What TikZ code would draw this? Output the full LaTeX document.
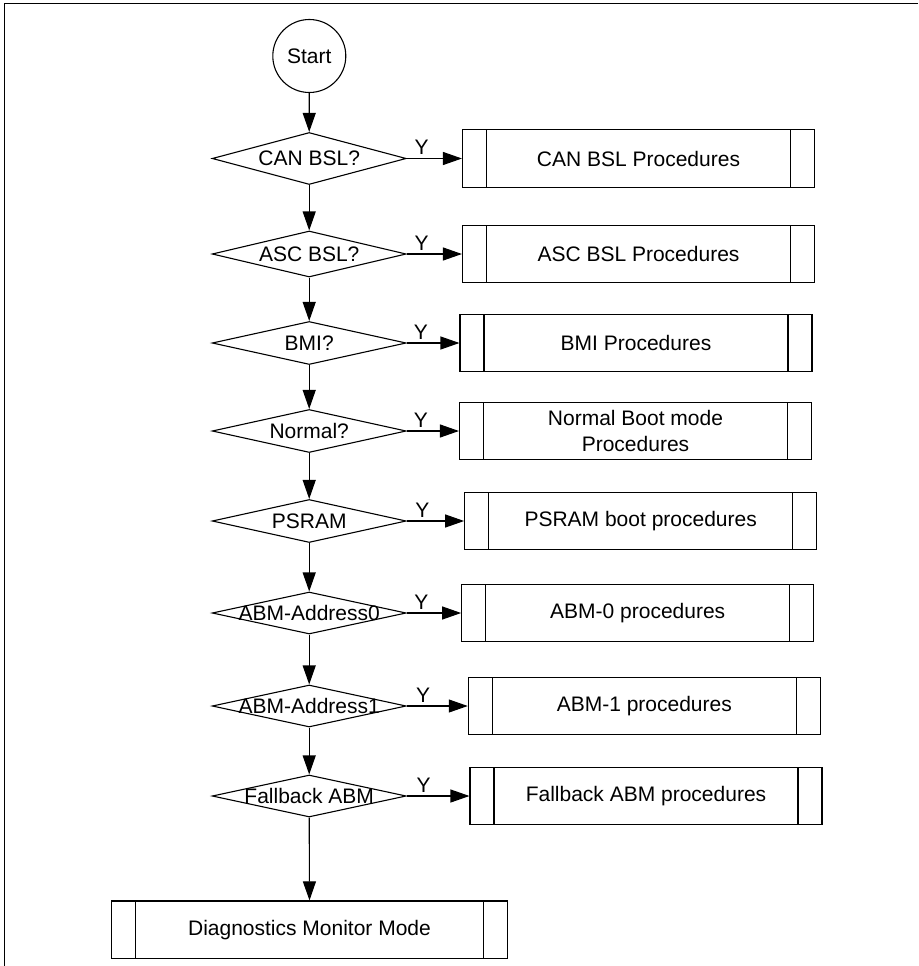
\documentclass[tikz,border=0pt]{standalone}
\usepackage{fontspec}
\setmainfont{Liberation Sans}
\usetikzlibrary{arrows.meta,shapes.geometric}
\tikzset{
  ar/.style={-{Triangle[length=19pt,width=13pt]},line width=1.1pt},
  startc/.style={draw,circle,line width=1.1pt,minimum size=73pt,inner sep=0pt},
  dec/.style={draw,diamond,line width=1.1pt,minimum width=194pt,inner sep=0pt},
  proc/.style={draw,rectangle,line width=1.1pt,minimum height=57.5pt,align=center,inner sep=0pt,
    path picture={\draw[line width=1.1pt]
      ([xshift=24pt]path picture bounding box.north west) -- ([xshift=24pt]path picture bounding box.south west)
      ([xshift=-24pt]path picture bounding box.north east) -- ([xshift=-24pt]path picture bounding box.south east);}}
}
\begin{document}
\begin{tikzpicture}[x=1pt,y=1pt,font=\fontsize{21}{26}\selectfont]
\useasboundingbox (0,0) rectangle (918,-966);
% frame
\draw[line width=1.3pt] (918,-3.5) -- (4.5,-3.5) -- (4.5,-966);
\node[startc] (start) at (309.3,-56) {Start};
% decisions and their procedures
\foreach \i/\y/\h/\bx/\q/\p in {
  1/158.5/52/638.5/{CAN BSL?}/{CAN BSL Procedures},
  2/254/46/638.5/{ASC BSL?}/{ASC BSL Procedures},
  3/343/43/636/{BMI?}/{BMI Procedures},
  4/431/43/635.5/{Normal?}/{Normal Boot mode\\Procedures},
  5/521/43/640.7/{PSRAM}/{PSRAM boot procedures},
  6/613/42/637.7/{ABM-Address0}/{ABM-0 procedures},
  7/706/42/644.3/{ABM-Address1}/{ABM-1 procedures},
  8/796/42/646/{Fallback ABM}/{Fallback ABM procedures}}{
  \node[dec,minimum height=\h pt] (d\i) at (309.2,-\y) {};
  \node (dt\i) at (d\i) {\q};
  \node[proc,minimum width=352pt] (p\i) at (\bx,-\y) {\p};
  \draw[ar] (d\i.east) -- node[above=3pt,pos=0.27,inner sep=0pt] (y\i) {Y} (p\i.west);
}
\node[proc,minimum width=395.6pt] (diag) at (309.5,-929.7) {Diagnostics Monitor Mode};
% down the main line
\draw[ar] (start) -- (d1.north);
\foreach \i in {1,...,7}{
  \pgfmathtruncatemacro{\j}{\i+1}
  \draw[ar] (d\i.south) -- (d\j.north);
}
\draw[ar] (d8.south) -- (diag.north);
\end{tikzpicture}
\end{document}
